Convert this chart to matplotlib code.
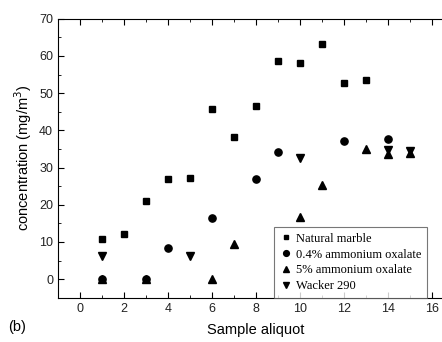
import matplotlib
matplotlib.use("Agg")
import matplotlib.pyplot as plt
from matplotlib.ticker import MultipleLocator

marble_x = [1, 2, 3, 4, 5, 6, 7, 8, 9, 10, 11, 12, 13]
marble_y = [10.8, 12.2, 21.0, 26.8, 27.1, 45.8, 38.3, 46.5, 58.6, 58.1, 63.3, 52.6, 53.4]
ox04_x = [1, 3, 4, 6, 8, 9, 12, 14]
ox04_y = [0.0, 0.0, 8.4, 16.5, 27.0, 34.1, 37.1, 37.6]
ox5_x = [1, 3, 6, 7, 10, 11, 13, 14, 15]
ox5_y = [0.0, 0.0, 0.0, 9.5, 16.8, 25.3, 35.0, 33.5, 33.8]
wack_x = [1, 5, 10, 14, 15]
wack_y = [6.1, 6.2, 32.5, 34.8, 34.5]
labels = ["Natural marble", "0.4% ammonium oxalate", "5% ammonium oxalate", "Wacker 290"]

W, H = 442, 342
fig = plt.figure(figsize=(W/100, H/100), dpi=100)
x0, x1 = 58, 454
y0, y1 = 297.7, 18.7
ax = fig.add_axes([x0/W, 1 - y0/H, (x1-x0)/W, (y0-y1)/H])

ax.plot(marble_x, marble_y, 's', color='black', ms=4.3, label=labels[0])
ax.plot(ox04_x, ox04_y, 'o', color='black', ms=5.2, label=labels[1])
ax.plot(ox5_x, ox5_y, '^', color='black', ms=5.2, label=labels[2])
ax.plot(wack_x, wack_y, 'v', color='black', ms=5.2, label=labels[3])

ax.set_xlim(-1, 17)
ax.set_ylim(-5, 70)
ax.xaxis.set_major_locator(MultipleLocator(2))
ax.xaxis.set_minor_locator(MultipleLocator(1))
ax.yaxis.set_major_locator(MultipleLocator(10))
ax.yaxis.set_minor_locator(MultipleLocator(5))
ax.tick_params(which='both', direction='in', top=True, right=False,
               labelsize=9, colors='black')
ax.tick_params(which='major', length=4)
ax.tick_params(which='minor', length=2)
for lab in ax.get_xticklabels() + ax.get_yticklabels():
    lab.set_family('Liberation Sans')
    lab.set_color('#222222')

ax.set_xlabel("Sample aliquot", fontsize=10.5, family='Liberation Sans', labelpad=6)
ax.set_ylabel("concentration (mg/m$^3$)", fontsize=10.5, family='Liberation Sans', labelpad=4)

fig.text(8/W, 1 - 327/H, "(b)", fontsize=10.5, family='Liberation Sans', va='center')

leg = ax.legend(loc='lower left', bbox_to_anchor=((274-x0)/(x1-x0), 0.0),
                prop={'family': 'Liberation Serif', 'size': 9},
                frameon=True, fancybox=False, edgecolor='#555555',
                handletextpad=0.3, handlelength=1.0, borderpad=0.45,
                labelspacing=0.3, markerscale=0.8, borderaxespad=0.0)
leg.get_frame().set_linewidth(0.8)

fig.savefig("out.png", dpi=100)
